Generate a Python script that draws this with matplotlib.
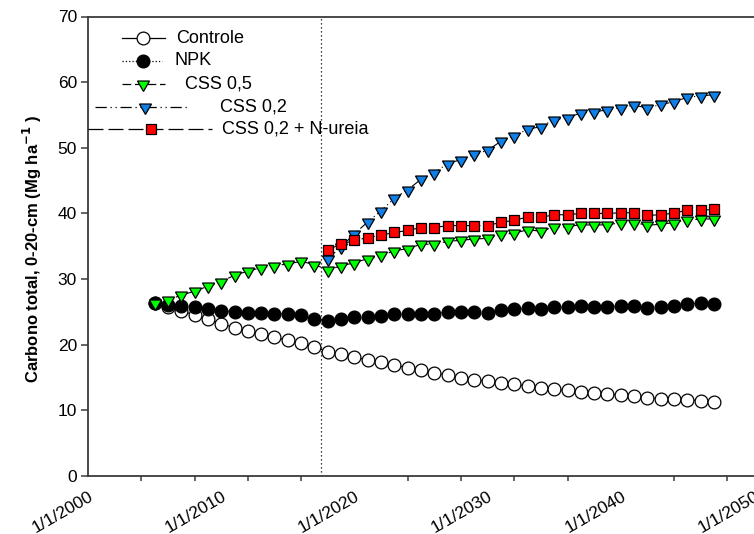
import matplotlib
matplotlib.use("Agg")
import matplotlib.pyplot as plt

plt.rcParams['font.family'] = ['Liberation Sans', 'DejaVu Sans']

# ---- data -------------------------------------------------------------
years_all = list(range(2005, 2048))
years_css = list(range(2018, 2048))

controle = [26.3, 25.8, 25.2, 24.5, 23.9, 23.2, 22.6, 22.1, 21.6, 21.1,
            20.7, 20.2, 19.7, 18.9, 18.6, 18.1, 17.7, 17.3, 16.9, 16.5,
            16.1, 15.7, 15.4, 15.0, 14.7, 14.4, 14.2, 14.0, 13.7, 13.45,
            13.25, 13.05, 12.8, 12.6, 12.5, 12.35, 12.2, 11.9, 11.8, 11.7,
            11.6, 11.5, 11.3]

npk = [26.3, 26.0, 25.9, 25.7, 25.4, 25.2, 25.0, 24.9, 24.85, 24.75,
       24.65, 24.5, 23.9, 23.6, 23.9, 24.15, 24.25, 24.4, 24.65, 24.65,
       24.75, 24.75, 25.0, 25.0, 25.0, 24.9, 25.25, 25.4, 25.6, 25.5,
       25.75, 25.75, 25.9, 25.75, 25.8, 25.9, 25.9, 25.6, 25.7, 25.9,
       26.2, 26.3, 26.2]

css_05 = [26.3, 26.8, 27.55, 28.15, 28.9, 29.6, 30.6, 31.2, 31.75, 32.05,
          32.3, 32.7, 32.2, 31.4, 32.0, 32.5, 33.1, 33.6, 34.3, 34.65,
          35.3, 35.3, 35.75, 35.9, 36.1, 36.2, 36.8, 37.0, 37.5, 37.3,
          37.95, 37.95, 38.3, 38.2, 38.3, 38.55, 38.6, 38.2, 38.35, 38.6,
          39.05, 39.1, 39.2]

css_02 = [33.1, 34.9, 36.9, 38.7, 40.4, 42.3, 43.6, 45.2, 46.2, 47.6,
          48.2, 49.0, 49.6, 51.0, 51.75, 52.85, 53.2, 54.3, 54.6, 55.3,
          55.45, 55.8, 56.1, 56.5, 56.05, 56.6, 57.0, 57.7, 57.9, 58.1]

css_02_n = [34.5, 35.3, 35.9, 36.3, 36.7, 37.1, 37.4, 37.85, 37.85, 38.15,
            38.15, 38.15, 38.15, 38.65, 38.95, 39.45, 39.4, 39.8, 39.8, 40.0,
            40.0, 40.0, 40.1, 40.1, 39.7, 39.8, 40.05, 40.5, 40.5, 40.6]

labels = ["Controle", "NPK", "CSS 0,5", "CSS 0,2", "CSS 0,2 + N-ureia"]

label_years = [2000, 2010, 2020, 2030, 2040, 2050]
label_text = ["1/1/2000", "1/1/2010", "1/1/2020", "1/1/2030", "1/1/2040", "1/1/2050"]
minor_years = [2000, 2004, 2008, 2012, 2016, 2024, 2028, 2032, 2036, 2044, 2048]
y_ticks = [0, 10, 20, 30, 40, 50, 60, 70]
start_year = 2017.5

# ---- styles -----------------------------------------------------------
tri_down = (3, 0, 180)
styles = {
    "Controle": dict(ls='-', marker='o', mfc='white', ms=9.2),
    "NPK": dict(ls=':', marker='o', mfc='black', ms=9.2),
    "CSS 0,5": dict(ls=(0, (7, 3)), marker=tri_down, mfc='#00ff00', ms=10),
    "CSS 0,2": dict(ls=(0, (9, 3, 1, 3, 1, 3)), marker=tri_down, mfc='#0f80e8', ms=10),
    "CSS 0,2 + N-ureia": dict(ls=(0, (12, 4)), marker='s', mfc='#ff0000', ms=7.4),
}

W, H = 754, 534
fig = plt.figure(figsize=(W / 100, H / 100), dpi=100)
L, R, T, B = 88, 754, 16.5, 476
ax = fig.add_axes([L / W, (H - B) / H, (R - L) / W, (B - T) / H])

x_per_year = 13.5
ax.set_xlim(2000, 2000 + (R - L) / x_per_year)
ax.set_ylim(0, 70)

series = [
    ("Controle", years_all, controle),
    ("NPK", years_all, npk),
    ("CSS 0,2", years_css, css_02),
    ("CSS 0,2 + N-ureia", years_css, css_02_n),
    ("CSS 0,5", years_all, css_05),
]
for name, xs, ys in series:
    st = styles[name]
    ax.plot(xs, ys, linestyle=st['ls'], color='black', lw=0.8,
            marker=st['marker'], markersize=st['ms'], markerfacecolor=st['mfc'],
            markeredgecolor='black', markeredgewidth=0.9, clip_on=False, zorder=3)

ax.axvline(start_year, color='black', linestyle=(0, (1, 2.2)), lw=0.9, zorder=1)

# axes frame
for side in ['left', 'bottom', 'top']:
    ax.spines[side].set_linewidth(1.3)
    ax.spines[side].set_color('#3a3a3a')
ax.spines['right'].set_visible(False)

ax.set_yticks(y_ticks)
ax.tick_params(axis='y', direction='out', length=5, width=1.1, color='#3a3a3a',
               labelsize=12.5, pad=3)
ax.set_xticks(label_years)
ax.set_xticklabels(label_text)
ax.set_xticks(minor_years, minor=True)
ax.tick_params(axis='x', which='major', length=0, labelsize=12.5, pad=9)
ax.tick_params(axis='x', which='minor', direction='out', length=3.5, width=1.1,
               color='#3a3a3a')
for t in ax.get_xticklabels():
    t.set_rotation(30)
    t.set_ha('right')
    t.set_va('top')
    t.set_rotation_mode('anchor')

ax.set_ylabel("Carbono total, 0-20-cm (Mg ha$^{\\mathbf{-1}}$ )", fontsize=12,
              fontweight='bold')
ax.yaxis.set_label_coords((44 - L) / (R - L), 0.495)

# legend drawn as line samples with markers
def to_ax(px, py):
    return (px - L) / (R - L), (B - py) / (B - T)

legend_rows = [
    ("Controle", 38.3, 121.7, 165, 143.3, 176),
    ("NPK", 60.7, 121.7, 162, 143.3, 175),
    ("CSS 0,5", 84.0, 121.7, 165, 143.3, 185),
    ("CSS 0,2", 106.7, 95, 190, 145, 220),
    ("CSS 0,2 + N-ureia", 128.5, 88, 212, 151, 222),
]
for name, py, x0, x1, xm, xt in legend_rows:
    st = styles[name]
    ax0, ay = to_ax(x0, py)
    ax1, _ = to_ax(x1, py)
    axm, _ = to_ax(xm, py)
    axt, _ = to_ax(xt, py)
    ax.plot([ax0, ax1], [ay, ay], transform=ax.transAxes, color='black',
            lw=0.9, linestyle=st['ls'], clip_on=False, zorder=4)
    ax.plot([axm], [ay], transform=ax.transAxes, linestyle='none',
            marker=st['marker'], markersize=st['ms'], markerfacecolor=st['mfc'],
            markeredgecolor='black', markeredgewidth=0.9, clip_on=False, zorder=5)
    ax.text(axt, ay, name, transform=ax.transAxes, fontsize=13, va='center',
            ha='left', zorder=5)

fig.savefig("out.png", dpi=100)
